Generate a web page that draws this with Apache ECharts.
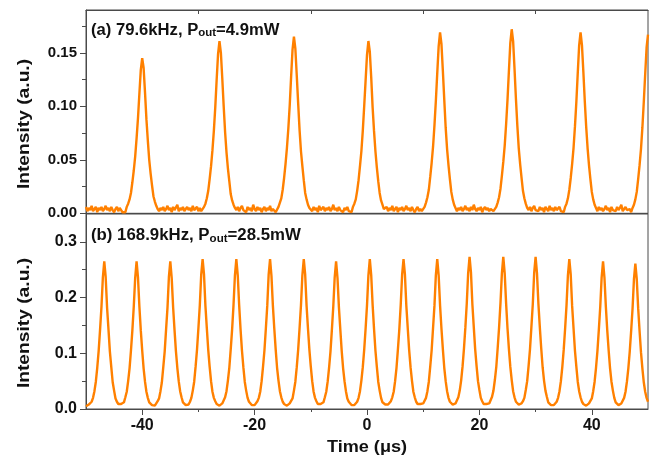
<!DOCTYPE html>
<html>
<head>
<meta charset="utf-8">
<script src="https://cdn.jsdelivr.net/npm/echarts@6/dist/echarts.min.js"></script>
<style>
html,body{margin:0;padding:0;background:#fff;}
#chart{width:653px;height:460px;}
</style>
</head>
<body>
<div id="chart"></div>
<script>
const tStart = -50;
const sampleStep = 0.25;

// (a) 79.6 kHz trace, intensity (a.u.)
const topIntensity = [
.006,.002,.005,.003,.007,.002,.004,.006,.001,.005,.003,.006,.002,.004,.007,.003,.005,.002,.006,.003,.001,.004,.006,.002,.005,.003,.001,.002,.001,
.006,.009,.013,.019,.029,.040,.053,.070,.089,.112,.134,.145,.136,.113,.088,.068,.050,.037,.026,.016,.011,.007,.004,
.002,.005,.003,.006,.002,.004,.007,.003,.005,.001,.006,.003,.004,.008,.002,.005,.003,.006,.002,.004,.006,.003,.005,.002,.007,.003,.004,.006,.002,.005,.002,.001,
.006,.009,.014,.021,.032,.044,.059,.077,.099,.125,.149,.161,.150,.126,.100,.076,.057,.042,.030,.018,.012,.008,.005,
.003,.006,.002,.005,.007,.003,.004,.001,.006,.003,.005,.002,.008,.004,.002,.006,.003,.005,.001,.004,.006,.002,.005,.003,.007,.002,.004,.003,.001,.002,
.006,.010,.014,.022,.033,.046,.061,.079,.101,.128,.153,.165,.154,.129,.103,.078,.058,.044,.031,.019,.013,.008,.005,
.004,.002,.006,.003,.005,.001,.007,.003,.004,.006,.002,.005,.003,.006,.002,.004,.008,.003,.005,.002,.006,.003,.004,.001,.005,.003,.006,.002,.003,.001,
.006,.009,.013,.021,.031,.044,.058,.077,.100,.124,.148,.161,.151,.127,.099,.077,.058,.043,.030,.019,.012,.008,.004,
.003,.006,.002,.005,.003,.007,.002,.004,.006,.001,.005,.003,.006,.002,.004,.007,.003,.005,.002,.006,.003,.001,.004,.006,.002,.004,.002,.001,
.006,.010,.015,.022,.034,.047,.062,.082,.105,.131,.156,.169,.158,.133,.106,.080,.060,.045,.032,.020,.013,.008,.005,
.002,.005,.003,.006,.002,.004,.007,.003,.005,.002,.006,.003,.008,.004,.002,.005,.003,.006,.001,.004,.006,.003,.005,.002,.004,.003,.002,.001,
.006,.010,.015,.023,.035,.048,.063,.083,.106,.133,.159,.172,.161,.135,.107,.082,.061,.046,.033,.021,.014,.009,.005,
.003,.006,.002,.005,.007,.003,.004,.002,.006,.003,.005,.001,.006,.004,.002,.007,.003,.005,.002,.006,.003,.004,.006,.002,.003,.001,
.006,.009,.014,.022,.033,.046,.061,.081,.104,.131,.157,.169,.157,.132,.105,.081,.061,.045,.032,.020,.013,.008,.005,
.002,.006,.003,.005,.002,.004,.007,.003,.005,.001,.006,.003,.004,.002,.006,.003,.005,.008,.002,.004,.006,.003,.002,.004,.001,
.005,.008,.013,.020,.032,.045,.060,.080,.104,.130,.155,.167
];

// (b) 168.9 kHz trace, intensity (a.u.)
const bottomIntensity = [
.005,.007,.008,.010,.013,.020,.032,.049,.074,.104,.142,.183,.236,
.265,
.237,.182,.143,.103,.075,.048,.033,.019,.013,.009,.008,
.009,.007,.012,.021,.031,.050,.073,.105,.141,.184,.235,
.265,
.236,.184,.141,.105,.073,.049,.031,.020,.012,.010,.007,.009,
.006,.010,.014,.019,.032,.048,.075,.103,.143,.182,.237,
.265,
.235,.183,.142,.104,.074,.050,.032,.021,.012,.010,.007,
.009,.008,.013,.020,.033,.049,.076,.106,.145,.186,.241,
.269,
.241,.185,.145,.106,.076,.050,.031,.020,.014,.009,.008,.006,
.009,.010,.012,.021,.032,.051,.074,.107,.143,.187,.240,
.269,
.240,.187,.143,.105,.075,.049,.033,.020,.013,.010,.007,.009,
.007,.009,.014,.020,.031,.050,.076,.105,.144,.185,.241,
.269,
.239,.186,.145,.107,.074,.051,.032,.021,.013,.009,.008,.006,
.009,.010,.013,.019,.033,.049,.075,.106,.145,.186,.240,
.269,
.241,.185,.144,.106,.076,.050,.031,.020,.014,.009,.007,
.009,.010,.012,.021,.031,.049,.074,.103,.142,.184,.236,
.265,
.235,.183,.143,.104,.073,.050,.032,.019,.013,.010,.007,.009,
.007,.010,.013,.020,.032,.051,.075,.106,.144,.186,.240,
.269,
.240,.187,.144,.105,.076,.049,.033,.020,.012,.010,.008,.006,
.008,.009,.014,.021,.031,.050,.074,.107,.143,.187,.241,
.269,
.241,.185,.145,.106,.075,.051,.031,.021,.013,.009,.007,.009,
.007,.010,.013,.020,.032,.049,.076,.105,.145,.185,.240,
.269,
.240,.186,.144,.107,.074,.050,.032,.020,.013,.010,.008,
.008,.010,.013,.021,.033,.051,.076,.108,.146,.189,.244,
.273,
.245,.188,.147,.107,.077,.050,.034,.020,.014,.009,.007,.009,
.007,.010,.013,.022,.033,.052,.075,.109,.146,.190,.243,
.273,
.244,.190,.145,.108,.076,.052,.032,.021,.013,.010,.008,
.009,.010,.014,.020,.034,.050,.077,.107,.147,.188,.245,
.273,
.243,.189,.147,.109,.075,.051,.033,.022,.012,.010,.007,.009,
.007,.010,.013,.020,.032,.050,.075,.106,.144,.186,.240,
.269,
.241,.185,.145,.105,.076,.049,.032,.021,.013,.009,.008,.006,
.009,.010,.013,.019,.032,.049,.074,.104,.142,.183,.236,
.265,
.236,.184,.141,.105,.073,.049,.033,.020,.012,.010,.007,
.009,.010,.013,.020,.031,.049,.073,.103,.140,.180,.233,
.261,
.233,.181,.140,.102,.073,.048,.031,.020,.013
];

// Axis ticks
const xMajorTicks = [-40, -20, 0, 20, 40];
const xMinorTicks = [-30, -10, 10, 30];
const topYTicks = [0, 0.05, 0.10, 0.15];
const topYMinor = [0.025, 0.075, 0.125, 0.175];
const botYTicks = [0, 0.1, 0.2, 0.3];
const botYMinor = [0.05, 0.15, 0.25];

// Texts
const labelA = ['(a) 79.6kHz, P', 'out', '=4.9mW'];
const labelB = ['(b) 168.9kHz, P', 'out', '=28.5mW'];
const yTitle = 'Intensity (a.u.)';
const xTitle = 'Time (\u03bcs)';

const FONT = '"Liberation Sans", Arial, Helvetica, sans-serif';
const AXIS_COLOR = '#4a4a4a';
const LINE_COLOR = '#ff8000';
const TEXT_COLOR = '#111';

const toXY = arr => arr.map((v, i) => [tStart + i * sampleStep, v]);

const lineStyle = { color: AXIS_COLOR, width: 1 };

function xAx(grid, pos, opts) {
  return Object.assign({
    gridIndex: grid, type: 'value', min: -50, max: 50, position: pos,
    axisLine: { show: true, onZero: false, lineStyle },
    axisTick: { show: false },
    axisLabel: { show: false },
    splitLine: { show: false }
  }, opts);
}
function yAx(grid, max, opts) {
  return Object.assign({
    gridIndex: grid, type: 'value', min: 0, max: max, position: 'left',
    axisLine: { show: true, onZero: false, lineStyle },
    axisTick: { show: false },
    axisLabel: { show: false },
    splitLine: { show: false }
  }, opts);
}
const hiddenLine = { show: false, onZero: false };

const chart = echarts.init(document.getElementById('chart'), null, { renderer: 'canvas' });

const option = {
  animation: false,
  backgroundColor: '#fff',
  grid: [
    { left: 86, top: 10, width: 562, height: 203.3, show: true, borderColor: AXIS_COLOR, borderWidth: 1, backgroundColor: 'transparent' },
    { left: 86, top: 214, width: 562, height: 195, show: true, borderColor: AXIS_COLOR, borderWidth: 1, backgroundColor: 'transparent' }
  ],
  xAxis: [
    xAx(0, 'bottom', {}),
    xAx(0, 'top', { axisTick: { show: true, inside: true, length: 4, customValues: xMinorTicks, lineStyle } }),
    xAx(1, 'bottom', {
      axisTick: { show: true, length: 6, customValues: xMajorTicks, lineStyle },
      axisLabel: { show: true, customValues: xMajorTicks, margin: 9, fontSize: 16, fontWeight: 'bold', fontFamily: FONT, color: TEXT_COLOR }
    }),
    xAx(1, 'bottom', { axisLine: hiddenLine, axisTick: { show: true, length: 3, customValues: xMinorTicks, lineStyle } })
  ],
  yAxis: [
    yAx(0, 0.19, {
      axisTick: { show: true, length: 6, customValues: topYTicks, lineStyle },
      axisLabel: { show: true, customValues: topYTicks, margin: 9, fontSize: 15, fontWeight: 'bold', fontFamily: FONT, color: TEXT_COLOR, formatter: v => v.toFixed(2) }
    }),
    yAx(0, 0.19, { axisLine: hiddenLine, axisTick: { show: true, length: 4, customValues: topYMinor, lineStyle } }),
    yAx(1, 0.35, {
      axisTick: { show: true, length: 6, customValues: botYTicks, lineStyle },
      axisLabel: { show: true, customValues: botYTicks, margin: 9, fontSize: 16, fontWeight: 'bold', fontFamily: FONT, color: TEXT_COLOR, formatter: v => v.toFixed(1) }
    }),
    yAx(1, 0.35, { axisLine: hiddenLine, axisTick: { show: true, length: 4, customValues: botYMinor, lineStyle } })
  ],
  series: [
    { type: 'line', xAxisIndex: 0, yAxisIndex: 0, data: toXY(topIntensity), showSymbol: false, symbol: 'none',
      lineStyle: { color: LINE_COLOR, width: 2.4 }, itemStyle: { color: LINE_COLOR }, clip: true, silent: true },
    { type: 'line', xAxisIndex: 2, yAxisIndex: 2, data: toXY(bottomIntensity), showSymbol: false, symbol: 'none',
      lineStyle: { color: LINE_COLOR, width: 2.4 }, itemStyle: { color: LINE_COLOR }, clip: true, silent: true }
  ],
  graphic: [
    { type: 'text', x: 91, y: 29.5, scaleX: 1.04, silent: true,
      style: { text: '{m|' + labelA[0] + '}{s|' + labelA[1] + '}{m|' + labelA[2] + '}', align: 'left', verticalAlign: 'middle',
        rich: { m: { fontSize: 16, fontWeight: 'bold', fontFamily: FONT, fill: TEXT_COLOR, lineHeight: 18, verticalAlign: 'bottom' },
                s: { fontSize: 11, fontWeight: 'bold', fontFamily: FONT, fill: TEXT_COLOR, lineHeight: 13, verticalAlign: 'bottom' } } } },
    { type: 'text', x: 91, y: 235, scaleX: 1.05, silent: true,
      style: { text: '{m|' + labelB[0] + '}{s|' + labelB[1] + '}{m|' + labelB[2] + '}', align: 'left', verticalAlign: 'middle',
        rich: { m: { fontSize: 16, fontWeight: 'bold', fontFamily: FONT, fill: TEXT_COLOR, lineHeight: 18, verticalAlign: 'bottom' },
                s: { fontSize: 11, fontWeight: 'bold', fontFamily: FONT, fill: TEXT_COLOR, lineHeight: 13, verticalAlign: 'bottom' } } } },
    { type: 'text', x: 24, y: 124, rotation: Math.PI / 2, scaleX: 1.13, silent: true,
      style: { text: yTitle, align: 'center', verticalAlign: 'middle', font: 'bold 17px ' + FONT, fill: TEXT_COLOR } },
    { type: 'text', x: 24, y: 323, rotation: Math.PI / 2, scaleX: 1.13, silent: true,
      style: { text: yTitle, align: 'center', verticalAlign: 'middle', font: 'bold 17px ' + FONT, fill: TEXT_COLOR } },
    { type: 'text', x: 367, y: 448, scaleX: 1.13, silent: true,
      style: { text: xTitle, align: 'center', verticalAlign: 'middle', font: 'bold 16px ' + FONT, fill: TEXT_COLOR } }
  ]
};

chart.setOption(option);
</script>
</body>
</html>
